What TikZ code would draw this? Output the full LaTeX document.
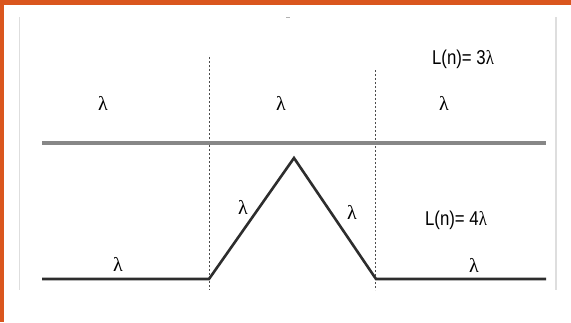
\documentclass[tikz,border=0pt]{standalone}
\usepackage{fontspec}
\setmainfont{Liberation Sans}
\newfontfamily\lamfont{Liberation Serif}
\newcommand{\lam}{{\lamfont λ}}
\usetikzlibrary{calc}
\definecolor{bandorange}{RGB}{218,86,30}
\definecolor{framegray}{RGB}{222,222,222}
\definecolor{topgray}{RGB}{135,135,135}
\definecolor{curvegray}{RGB}{45,45,45}
\begin{document}
\begin{tikzpicture}[x=1pt,y=-1pt,
  lbl/.style={font=\fontsize{20}{20}\selectfont, inner sep=0pt},
  eqlbl/.style={font=\fontsize{20}{20}\selectfont, inner sep=0pt, xscale=0.84, transform shape},
  frameline/.style={draw=framegray, line width=1.2pt},
  guide/.style={draw=black!70, line width=0.6pt, dash pattern=on 2pt off 2pt},
  topline/.style={draw=topgray, line width=3.5pt},
  curve/.style={draw=curvegray, line width=2.6pt, line join=miter}]
\useasboundingbox (0,0) rectangle (571,322);
\fill[white] (0,0) rectangle (571,322);
\fill[bandorange] (0,0) rectangle (571,5);
\fill[bandorange] (0,0) rectangle (4,322);
% frame lines
\coordinate (fl1) at (19.5,17); \coordinate (fl2) at (19.5,290);
\coordinate (fr1) at (556,17); \coordinate (fr2) at (556,290);
\draw[frameline] (fl1) -- (fl2);
\draw[frameline] (fr1) -- (fr2);
\coordinate (tk) at (288,17);
\draw[framegray!80!black, line width=0.8pt] ($(tk)+(-2,0)$) -- ($(tk)+(2,0)$);
% guides
\coordinate (g1t) at (209,57); \coordinate (g1b) at (209,290);
\coordinate (g2t) at (375,70); \coordinate (g2b) at (375,290);
\draw[guide] (g1t) -- (g1b);
\draw[guide] (g2t) -- (g2b);
% top line
\coordinate (ta) at (42,143); \coordinate (tb) at (546,143);
\draw[topline] (ta) -- (tb);
% bottom curve
\coordinate (b0) at (42,279);
\coordinate (b1) at (209,279);
\coordinate (b2) at (294,158);
\coordinate (b3) at (376,279);
\coordinate (b4) at (546,279);
\draw[curve] (b0) -- (b1) -- (b2) -- (b3) -- (b4);
% labels
\node[lbl] (l1) at (103,103) {\lam};
\node[lbl] (l2) at (281,103) {\lam};
\node[lbl] (l3) at (444,103) {\lam};
\node[eqlbl] (L3) at (463,59) {L(n)= 3\lam};
\node[lbl] (l4) at (243,207) {\lam};
\node[lbl] (l5) at (352,212) {\lam};
\node[eqlbl] (L4) at (456,220) {L(n)= 4\lam};
\node[lbl] (l6) at (118,264) {\lam};
\node[lbl] (l7) at (474,265) {\lam};
\end{tikzpicture}
\end{document}
